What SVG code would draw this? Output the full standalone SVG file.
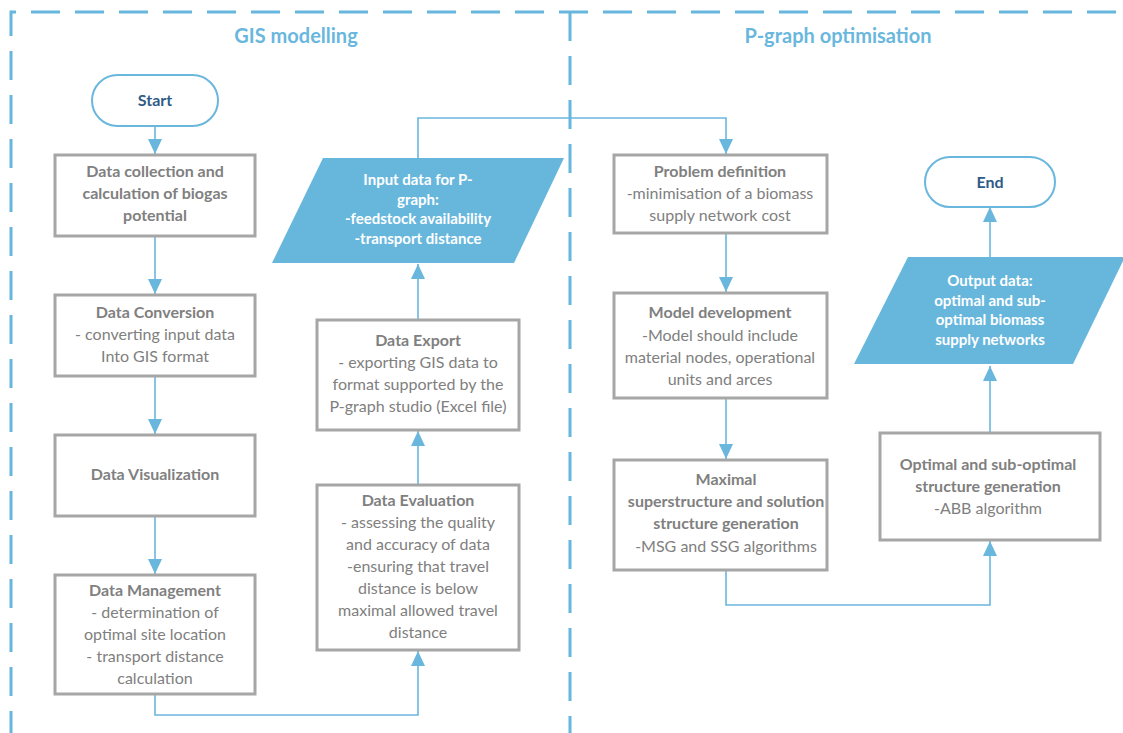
<svg xmlns="http://www.w3.org/2000/svg" width="1123" height="733" viewBox="0 0 1123 733">
<style>
.frame{fill:none;stroke:#67B6DE;stroke-width:3;stroke-dasharray:29 15}
.title{font-family:Lato,"Liberation Sans",sans-serif;font-size:20px;font-weight:700;fill:#6AB7DE;text-anchor:middle}
.box{fill:#fff;stroke:#A6A6A6;stroke-width:3}
.pill{fill:#fff;stroke:#6AB7DE;stroke-width:2}
.para{fill:#67B7DD;stroke:none}
.t{font-family:Lato,"Liberation Sans",sans-serif;font-size:16px;fill:#808080;text-anchor:middle}
.b{font-weight:700}
.w{font-family:Lato,"Liberation Sans",sans-serif;font-size:15px;font-weight:700;fill:#fff;text-anchor:middle}
.p{font-family:Lato,"Liberation Sans",sans-serif;font-size:16px;font-weight:700;fill:#2F5B88;text-anchor:middle}
.c{fill:none;stroke:#6AB7DE;stroke-width:1.6}
</style>
<defs>
<marker id="ah" markerUnits="userSpaceOnUse" markerWidth="16" markerHeight="14" viewBox="0 0 16 14" refX="15" refY="7" orient="auto">
<path d="M0,0 L15,7 L0,14 Z" fill="#6AB7DE"/>
</marker>
</defs>
<g id="frame">
<path class="frame" d="M11,740 V12 H1135"/>
<path class="frame" d="M570,12 V740"/>
</g>
<text class="title" x="296" y="43">GIS modelling</text>
<text class="title" x="838" y="43">P-graph optimisation</text>
<g id="connectors">
<path class="c" d="M155,126 V154" marker-end="url(#ah)"/>
<path class="c" d="M155,236 V294" marker-end="url(#ah)"/>
<path class="c" d="M155,376 V434" marker-end="url(#ah)"/>
<path class="c" d="M155,516 V574" marker-end="url(#ah)"/>
<path class="c" d="M155,694 V715 H418 V651" marker-end="url(#ah)"/>
<path class="c" d="M418,485 V431" marker-end="url(#ah)"/>
<path class="c" d="M418,320 V264" marker-end="url(#ah)"/>
<path class="c" d="M418,158 V118 H726 V154" marker-end="url(#ah)"/>
<path class="c" d="M726,234 V292" marker-end="url(#ah)"/>
<path class="c" d="M726,399 V459" marker-end="url(#ah)"/>
<path class="c" d="M726,571 V605 H990 V541" marker-end="url(#ah)"/>
<path class="c" d="M990,433 V366" marker-end="url(#ah)"/>
<path class="c" d="M990,257 V207" marker-end="url(#ah)"/>
</g>
<g id="start">
<rect class="pill" x="92" y="75" width="126" height="51" rx="25.5"/>
<text class="p" x="155" y="106">Start</text>
</g>
<g id="data-collection">
<rect class="box" x="55" y="155" width="200" height="81"/>
<text class="t b" x="155" y="177">Data collection and</text>
<text class="t b" x="155" y="199">calculation of biogas</text>
<text class="t b" x="155" y="221">potential</text>
</g>
<g id="data-conversion">
<rect class="box" x="55" y="295" width="200" height="81"/>
<text class="t b" x="155" y="318">Data Conversion</text>
<text class="t" x="155" y="340">- converting input data</text>
<text class="t" x="155" y="362">Into GIS format</text>
</g>
<g id="data-visualization">
<rect class="box" x="55" y="435" width="200" height="81"/>
<text class="t b" x="155" y="480">Data Visualization</text>
</g>
<g id="data-management">
<rect class="box" x="55" y="575" width="200" height="119"/>
<text class="t b" x="155" y="596">Data Management</text>
<text class="t" x="155" y="618">- determination of</text>
<text class="t" x="155" y="640">optimal site location</text>
<text class="t" x="155" y="662">- transport distance</text>
<text class="t" x="155" y="684">calculation</text>
</g>
<g id="data-evaluation">
<rect class="box" x="317" y="485" width="202" height="165"/>
<text class="t b" x="418" y="506">Data Evaluation</text>
<text class="t" x="418" y="528">- assessing the quality</text>
<text class="t" x="418" y="550">and accuracy of data</text>
<text class="t" x="418" y="572">-ensuring that travel</text>
<text class="t" x="418" y="594">distance is below</text>
<text class="t" x="418" y="616">maximal allowed travel</text>
<text class="t" x="418" y="638">distance</text>
</g>
<g id="data-export">
<rect class="box" x="317" y="320" width="202" height="110"/>
<text class="t b" x="418" y="346">Data Export</text>
<text class="t" x="418" y="368">- exporting GIS data to</text>
<text class="t" x="418" y="390">format supported by the</text>
<text class="t" x="418" y="412">P-graph studio (Excel file)</text>
</g>
<g id="input-data">
<polygon class="para" points="323,158 564,158 514,263 272,263"/>
<text class="w" x="418" y="185">Input data for P-</text>
<text class="w" x="418" y="205">graph:</text>
<text class="w" x="418" y="224">-feedstock availability</text>
<text class="w" x="418" y="244">-transport distance</text>
</g>
<g id="problem-definition">
<rect class="box" x="614" y="155" width="213" height="78"/>
<text class="t b" x="720" y="177">Problem definition</text>
<text class="t" x="720" y="199">-minimisation of a biomass</text>
<text class="t" x="720" y="221">supply network cost</text>
</g>
<g id="model-development">
<rect class="box" x="614" y="293" width="213" height="105"/>
<text class="t b" x="720" y="318">Model development</text>
<text class="t" x="720" y="341">-Model should include</text>
<text class="t" x="720" y="363">material nodes, operational</text>
<text class="t" x="720" y="385">units and arces</text>
</g>
<g id="maximal">
<rect class="box" x="614" y="460" width="213" height="110"/>
<text class="t b" x="726" y="485">Maximal</text>
<text class="t b" x="726" y="507">superstructure and solution</text>
<text class="t b" x="726" y="529">structure generation</text>
<text class="t" x="726" y="552">-MSG and SSG algorithms</text>
</g>
<g id="optimal">
<rect class="box" x="880" y="433" width="220" height="107"/>
<text class="t b" x="988" y="470">Optimal and sub-optimal</text>
<text class="t b" x="988" y="492">structure generation</text>
<text class="t" x="988" y="514">-ABB algorithm</text>
</g>
<g id="output-data">
<polygon class="para" points="908,257 1125,257 1073,364 854,364"/>
<text class="w" x="990" y="286">Output data:</text>
<text class="w" x="990" y="306">optimal and sub-</text>
<text class="w" x="990" y="325">optimal biomass</text>
<text class="w" x="990" y="345">supply networks</text>
</g>
<g id="end">
<rect class="pill" x="925" y="157" width="130" height="50" rx="25"/>
<text class="p" x="990" y="188">End</text>
</g>
</svg>
